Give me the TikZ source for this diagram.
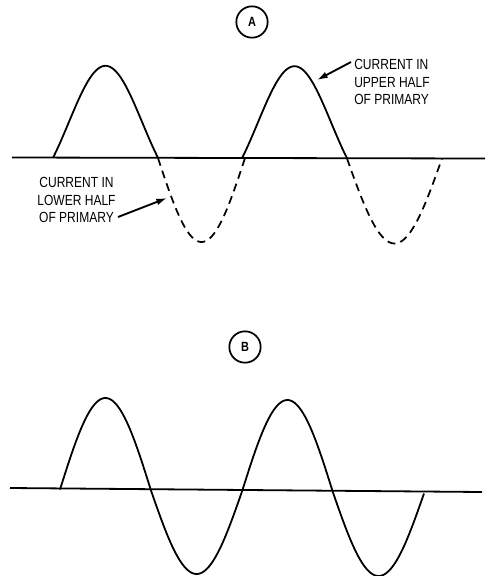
\documentclass[tikz,border=0pt]{standalone}
\usepackage{fontspec}
\setmainfont{Liberation Sans}[FakeStretch=0.82]
\usetikzlibrary{arrows.meta}
\begin{document}
\begin{tikzpicture}[x=0.75pt,y=-0.75pt,
  declare function={hb(\t)=0.72*sin(\t)+0.28*sin(\t)*sin(\t);},
  wave/.style={line width=1.35pt, line join=round},
  axisline/.style={line width=1.35pt},
  dwave/.style={line width=1.3pt, dash pattern=on 6pt off 4pt},
  lbl/.style={font=\fontsize{11}{13.2}\selectfont, inner sep=0pt},
  letter/.style={circle, draw, line width=1.3pt, minimum size=23.5pt, inner sep=0pt, font=\fontsize{10}{12}\selectfont\bfseries},
  pointer/.style={line width=1.4pt, -{Latex[length=8pt,width=5pt]}}]
\useasboundingbox (0,0) rectangle (490,576);
% ---- A ----
\node[letter] (circA) at (252,22) {A};
\draw[axisline] (12,157.5) -- (485,158.5);
\draw[wave] plot[domain=53:158, samples=80, smooth] (\x, {157.8 - 92*hb((\x-53)/105*180)});
\draw[wave] plot[domain=242:347, samples=80, smooth] (\x, {158.2 - 92*hb((\x-242)/105*180)});
\draw[dwave] plot[domain=158:245, samples=60, smooth] (\x, {158 + 84*sin((\x-158)/87*180)});
\draw[dwave] plot[domain=347:442, samples=60, smooth] (\x, {158.5 + 85*sin((\x-347)/95*180)});
\node[lbl, align=left, anchor=north west] (lblU) at (354,59) {CURRENT IN\\UPPER HALF\\OF PRIMARY};
\node[lbl, align=center, anchor=north] (lblL) at (76.5,177) {CURRENT IN\\LOWER HALF\\OF PRIMARY};
\coordinate (tailU) at (351,62);
\coordinate (tipU) at (317,80);
\coordinate (tailL) at (118,217);
\coordinate (tipL) at (167,198);
\draw[pointer] (tailU) -- (tipU);
\draw[pointer] (tailL) -- (tipL);
% ---- B ----
\node[letter] (circB) at (245,347) {B};
\draw[axisline] (10,488) -- (482,492);
\draw[wave] plot[domain=60:424, samples=200, smooth] (\x, {489.5 + 0.011*(\x-60) - (sin((\x-60)/91*180)>0 ? 92 : 83)*sin((\x-60)/91*180)});
\end{tikzpicture}
\end{document}
